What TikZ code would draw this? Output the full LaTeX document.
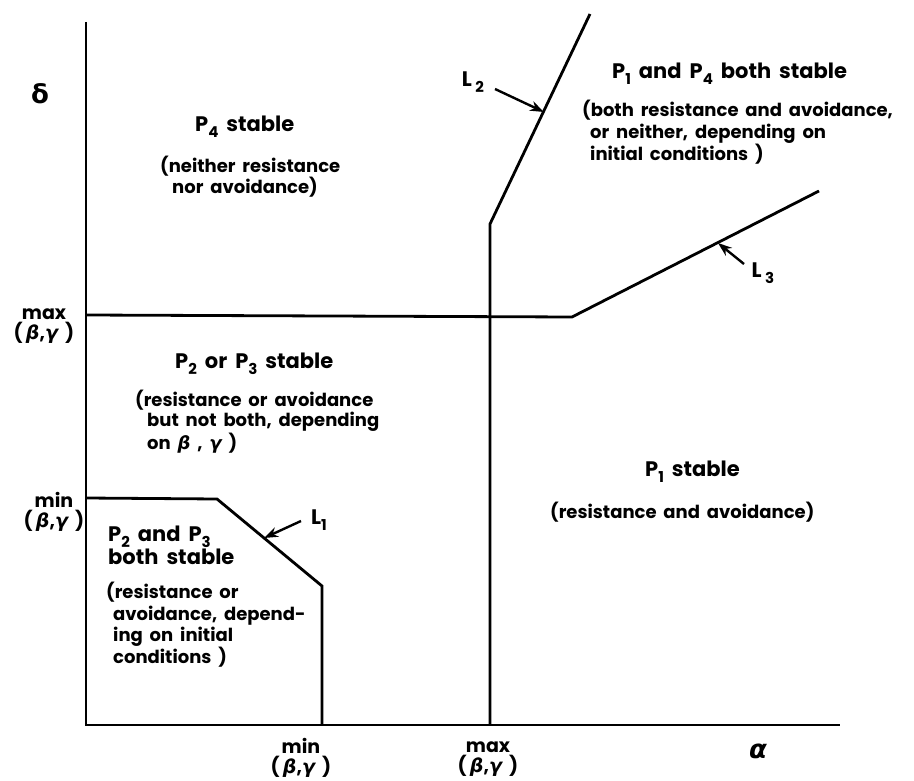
\documentclass[tikz,border=0pt]{standalone}
\usepackage{fontspec}
\setmainfont{Poppins}[WordSpace=1.8]
\newfontfamily\grk{DejaVu Sans}
\usetikzlibrary{arrows.meta}
\newcommand{\sbs}[1]{\raisebox{-0.5ex}{\fontsize{15}{15}\selectfont #1}}
\newcommand{\gkb}{{\grk\bfseries\itshape β}}
\newcommand{\gkg}{{\grk\bfseries\itshape γ}}
\newcommand{\bgpair}{(\,\gkb,\gkg{} )}
\tikzset{
  body/.style={font=\fontsize{18}{21}\selectfont\bfseries, align=left, inner sep=0pt, anchor=north west},
  ttl/.style={font=\fontsize{21}{23}\selectfont\bfseries, align=left, inner sep=0pt, anchor=north west},
  axl/.style={font=\fontsize{19}{20}\selectfont\bfseries, align=center, inner sep=0pt},
  bnd/.style={line width=2.8pt, line join=miter},
  ptr/.style={line width=2.4pt, -{Stealth[length=14pt,width=10pt]}},
}
\begin{document}
\begin{tikzpicture}[x=1pt,y=-1pt]
\path[use as bounding box] (0,0) rectangle (914,781);
% axes
\coordinate (O) at (86,725);
\coordinate (Ytop) at (86,22);
\coordinate (Xend) at (840,725);
\draw[bnd] (Ytop) -- (O) -- (Xend);
% boundaries
\coordinate (hmax0) at (86,315);
\coordinate (hmax1) at (572,317);
\coordinate (l3end) at (819,191);
\draw[bnd] (hmax0) -- (hmax1) -- (l3end);
\coordinate (vmax0) at (490,725);
\coordinate (vmax1) at (490,224);
\coordinate (l2end) at (590,14);
\draw[bnd] (vmax0) -- (vmax1) -- (l2end);
\coordinate (l1a) at (86,498);
\coordinate (l1b) at (217,499);
\coordinate (l1c) at (322,586);
\coordinate (l1d) at (322,725);
\draw[bnd] (l1a) -- (l1b) -- (l1c) -- (l1d);
% line labels
\node[ttl, anchor=center] (L2) at (473,82) {L\,\sbs2};
\coordinate (l2tail) at (495,89);
\coordinate (l2tip) at (544,112);
\draw[ptr] (l2tail) -- (l2tip);
\node[ttl, anchor=center] (L3) at (763,273) {L\,\sbs3};
\coordinate (l3tail) at (744,264);
\coordinate (l3tip) at (718,243);
\draw[ptr] (l3tail) -- (l3tip);
\node[ttl, anchor=center] (L1) at (319,520) {L\sbs1};
\coordinate (l1tail) at (301,521);
\coordinate (l1tip) at (264,538);
\draw[ptr] (l1tail) -- (l1tip);
% axis labels
\node[font=\fontsize{26}{26}\selectfont\grk\bfseries, inner sep=0pt] (delta) at (40,94) {δ};
\node[font=\fontsize{26}{26}\selectfont\grk\bfseries\itshape, inner sep=0pt] (alpha) at (758,751) {α};
\node[axl] (ymax) at (44,326) {max\\\bgpair};
\node[axl] (ymin) at (54,512) {min\\\bgpair};
\node[axl] (xmin) at (301,758) {min\\\bgpair};
\node[axl] (xmax) at (488,759) {max\\\bgpair};
% region texts
\node[ttl] (p4t) at (195,116) {P\sbs4 stable};
\node[body] (p4b) at (160,156) {(neither resistance\\\hspace*{12pt}nor avoidance)};
\node[ttl] (p14t) at (612,63) {P\sbs1 and P\sbs4 both stable};
\node[body, font=\fontsize{18}{22}\selectfont\bfseries] (p14b) at (582,100) {(both resistance and avoidance,\\\hspace*{8pt}or neither, depending on\\\hspace*{8pt}initial conditions )};
\node[ttl] (p23t) at (175,353) {P\sbs2 or P\sbs3 stable};
\node[body, font=\fontsize{18}{20}\selectfont\bfseries] (p23b) at (135,390) {(resistance or avoidance\\\hspace*{12pt}but not both, depending\\\hspace*{12pt}on \gkb{} , \gkg{} )};
\node[ttl] (p23bt) at (108,526) {P\sbs2 and P\sbs3\\both stable};
\node[body, font=\fontsize{18}{21.5}\selectfont\bfseries] (p23bb) at (106,582) {(resistance or\\\hspace*{7pt}avoidance, depend-\\\hspace*{7pt}ing on initial\\\hspace*{7pt}conditions )};
\node[ttl] (p1t) at (645,461) {P\sbs1 stable};
\node[body] (p1b) at (550,502) {(resistance and avoidance)};
\end{tikzpicture}
\end{document}
